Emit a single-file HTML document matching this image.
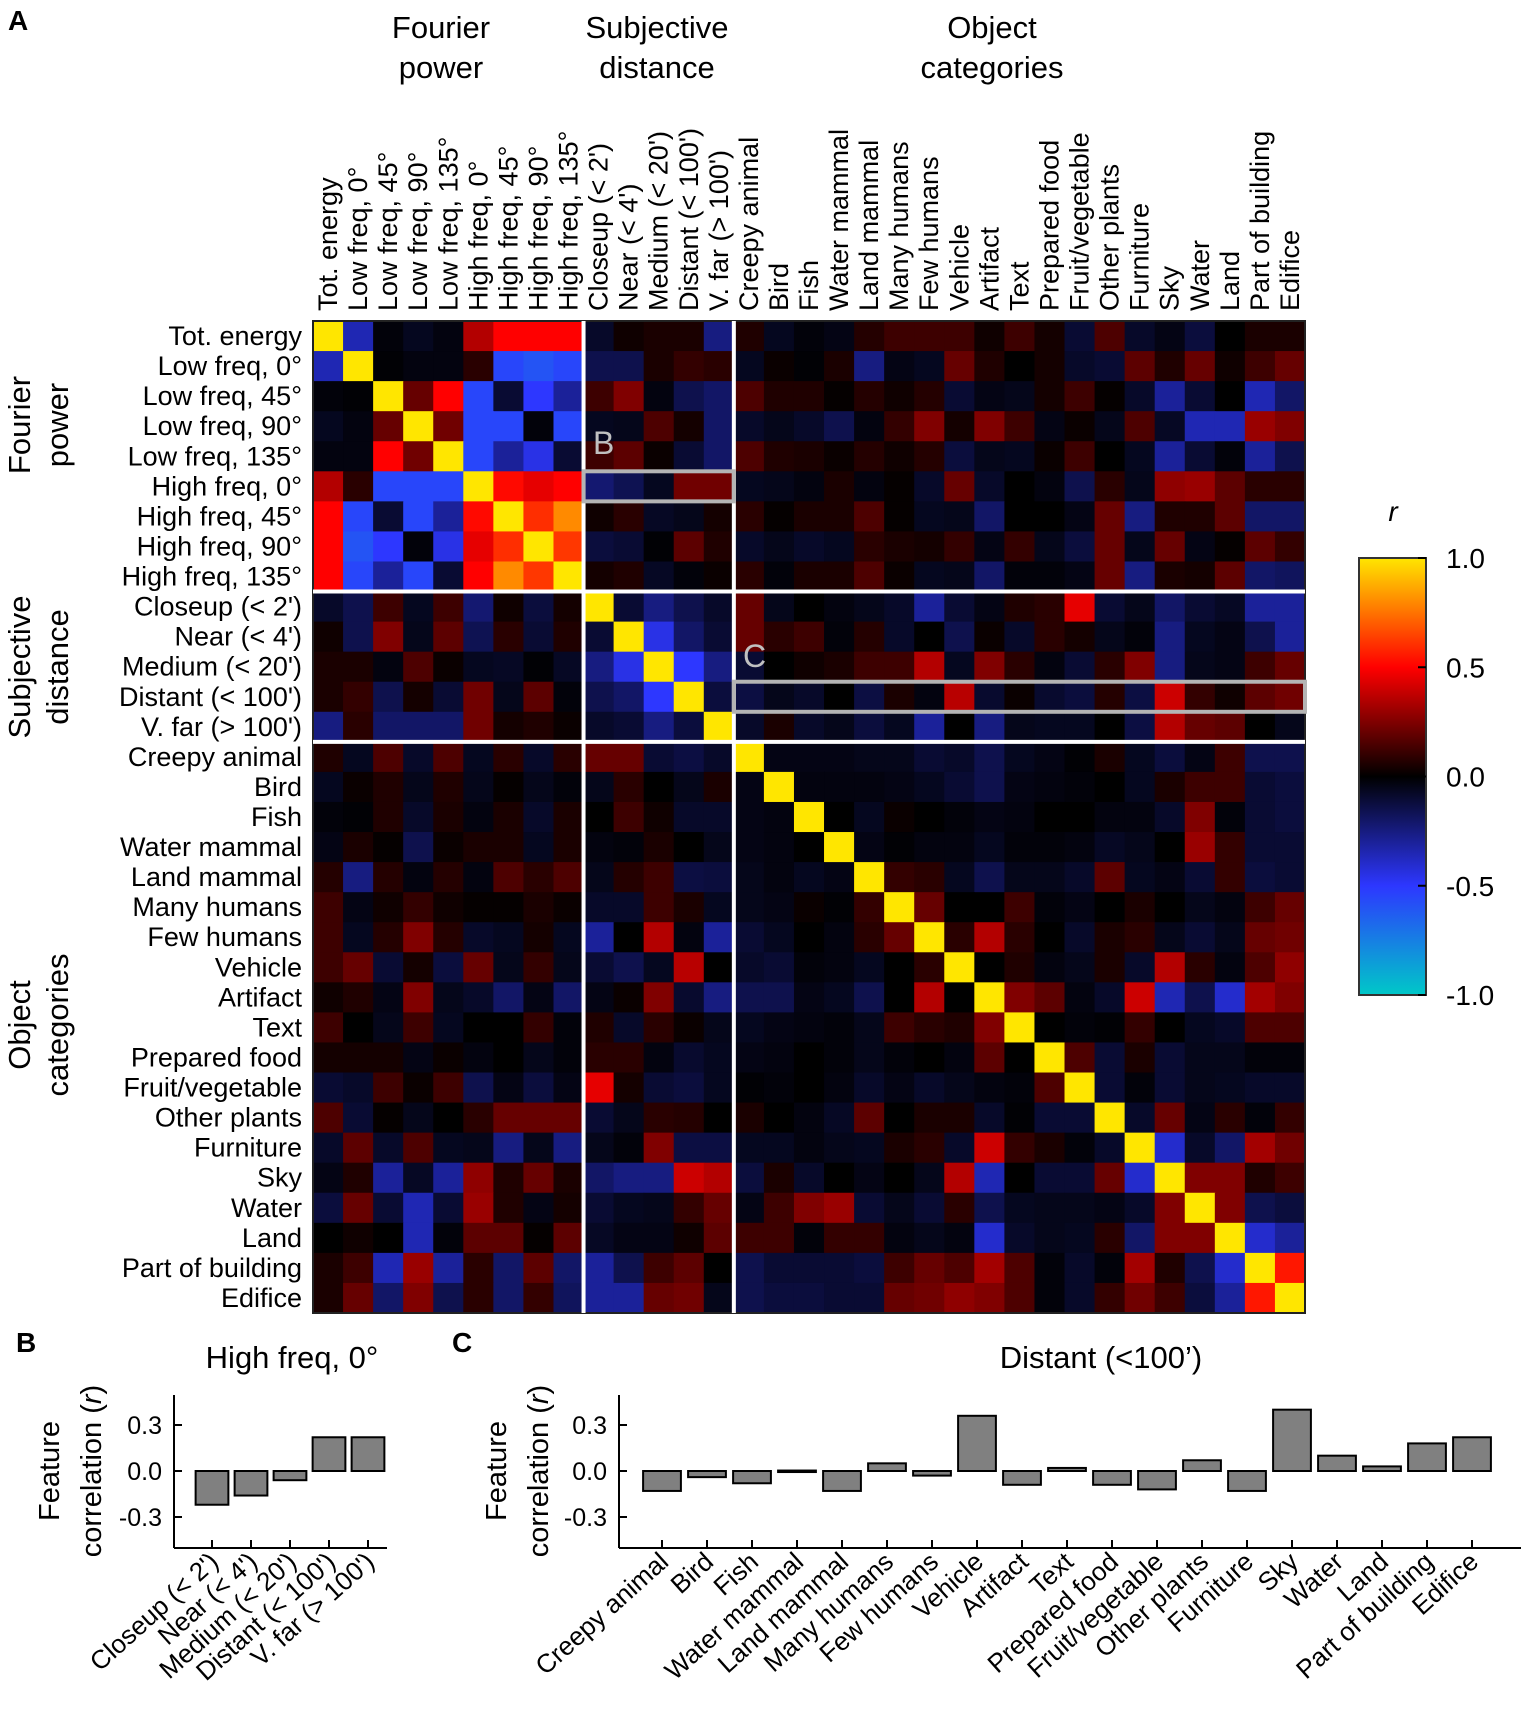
<!DOCTYPE html>
<html><head><meta charset="utf-8"><style>
body{margin:0;background:#fff}
svg{display:block;font-family:"Liberation Sans",Arial,sans-serif}
</style></head><body>
<svg id="fig" width="1526" height="1715" viewBox="0 0 1526 1715">
<text x="8" y="30" font-size="28" font-weight="bold">A</text>
<g font-size="31" text-anchor="middle">
<text x="441" y="38">Fourier</text>
<text x="441" y="78">power</text>
<text x="657" y="38">Subjective</text>
<text x="657" y="78">distance</text>
<text x="992" y="38">Object</text>
<text x="992" y="78">categories</text>
</g>
<g font-size="31" text-anchor="middle">
<text transform="translate(30,425) rotate(-90)">Fourier</text>
<text transform="translate(68,425) rotate(-90)">power</text>
<text transform="translate(30,667) rotate(-90)">Subjective</text>
<text transform="translate(68,667) rotate(-90)">distance</text>
<text transform="translate(30,1025) rotate(-90)">Object</text>
<text transform="translate(68,1025) rotate(-90)">categories</text>
</g>
<g id="heat"></g>
<g id="cbar"></g>
<text x="16" y="1352" font-size="28" font-weight="bold">B</text>
<text x="292" y="1368" font-size="31" text-anchor="middle">High freq, 0°</text>
<g id="chartB"></g>
<text x="452" y="1352" font-size="28" font-weight="bold">C</text>
<text x="1101" y="1368" font-size="31" text-anchor="middle">Distant (&lt;100’)</text>
<g id="chartC"></g>
</svg>
<script>
const labels = ["Tot. energy","Low freq, 0°","Low freq, 45°","Low freq, 90°","Low freq, 135°","High freq, 0°","High freq, 45°","High freq, 90°","High freq, 135°","Closeup (< 2')","Near (< 4')","Medium (< 20')","Distant (< 100')","V. far (> 100')","Creepy animal","Bird","Fish","Water mammal","Land mammal","Many humans","Few humans","Vehicle","Artifact","Text","Prepared food","Fruit/vegetable","Other plants","Furniture","Sky","Water","Land","Part of building","Edifice"];
const lowerTri = [
[],
[-0.35],
[-0.02,-0.01],
[-0.06,-0.03,0.2],
[-0.03,-0.03,0.5,0.22],
[0.35,0.08,-0.55,-0.55,-0.55],
[0.5,-0.55,-0.1,-0.55,-0.3,0.52],
[0.5,-0.6,-0.5,-0.02,-0.45,0.45,0.6],
[0.5,-0.55,-0.3,-0.55,-0.1,0.5,0.8,0.62],
[-0.08,-0.15,0.12,-0.06,0.12,-0.22,0.03,-0.12,0.04],
[0.03,-0.15,0.25,-0.05,0.18,-0.16,0.08,-0.1,0.06,-0.1],
[0.05,0.05,-0.03,0.15,0.02,-0.06,-0.07,-0.01,-0.07,-0.25,-0.45],
[0.05,0.1,-0.15,0.04,-0.1,0.22,-0.05,0.18,-0.02,-0.15,-0.2,-0.5],
[-0.25,0.08,-0.2,-0.2,-0.2,0.22,0.04,0.06,0.02,-0.08,-0.1,-0.25,-0.12],
[0.06,-0.06,0.15,-0.08,0.15,-0.06,0.08,-0.08,0.08,0.2,0.2,-0.1,-0.13,-0.08],
[-0.06,0.02,0.06,-0.05,0.06,-0.05,0.01,-0.05,-0.02,-0.05,0.08,0.0,-0.05,0.05,-0.04],
[-0.02,-0.01,0.06,-0.08,0.05,-0.03,0.05,-0.08,0.05,0.0,0.12,0.03,-0.08,-0.08,-0.04,-0.03],
[-0.04,0.05,0.01,-0.15,0.02,0.05,0.05,-0.06,0.05,-0.03,-0.02,0.05,0.0,-0.05,-0.04,-0.03,0.0],
[0.07,-0.25,0.07,-0.03,0.07,-0.03,0.15,0.08,0.15,-0.05,0.07,0.12,-0.13,-0.12,-0.05,-0.03,-0.06,-0.04],
[0.12,-0.04,0.03,0.1,0.03,0.01,0.01,0.05,0.02,-0.08,-0.08,0.12,0.05,-0.06,-0.05,-0.04,0.02,-0.01,0.1],
[0.12,-0.06,0.07,0.25,0.07,-0.08,-0.06,0.04,-0.06,-0.3,0.0,0.35,-0.03,-0.3,-0.1,-0.06,0.0,-0.03,0.08,0.2],
[0.12,0.2,-0.1,0.04,-0.12,0.2,-0.05,0.1,-0.05,-0.1,-0.15,-0.06,0.36,0.0,-0.08,-0.1,-0.02,-0.03,-0.06,0.0,0.08],
[0.03,0.06,-0.04,0.25,-0.05,-0.08,-0.2,-0.04,-0.2,-0.04,0.02,0.25,-0.09,-0.25,-0.15,-0.15,-0.04,-0.06,-0.15,0.0,0.35,0.0],
[0.12,0.0,-0.05,0.12,-0.06,0.0,0.0,0.1,-0.02,0.06,-0.08,0.08,0.02,-0.05,-0.06,-0.04,-0.03,-0.02,-0.05,0.12,0.08,0.06,0.25],
[0.04,0.04,0.04,-0.04,0.02,-0.03,0.0,-0.05,-0.02,0.08,0.08,-0.03,-0.09,-0.06,-0.04,-0.03,0.0,-0.02,-0.05,-0.02,0.0,-0.03,0.18,0.0],
[-0.1,-0.08,0.12,0.02,0.12,-0.15,-0.04,-0.12,-0.04,0.45,0.04,-0.1,-0.12,-0.06,-0.01,-0.02,0.0,-0.03,-0.08,-0.04,-0.08,-0.05,-0.03,-0.02,0.15],
[0.15,-0.1,0.01,-0.05,0.0,0.08,0.2,0.2,0.2,-0.1,-0.05,0.08,0.07,0.0,0.05,0.0,-0.03,-0.07,0.18,0.0,0.05,0.05,-0.08,-0.01,-0.1,-0.1],
[-0.08,0.18,-0.08,0.15,-0.06,-0.05,-0.25,-0.05,-0.25,-0.05,-0.02,0.25,-0.13,-0.13,-0.06,-0.06,-0.03,-0.05,-0.06,0.05,0.08,-0.08,0.4,0.1,0.05,-0.02,-0.08],
[-0.04,0.06,-0.3,-0.07,-0.3,0.28,0.06,0.2,0.05,-0.2,-0.25,-0.25,0.4,0.35,-0.12,0.05,-0.08,0.0,-0.04,0.0,-0.05,0.35,-0.35,0.0,-0.1,-0.1,0.2,-0.4],
[-0.12,0.2,-0.1,-0.35,-0.1,0.3,0.06,-0.04,0.04,-0.1,-0.06,-0.05,0.1,0.2,-0.04,0.12,0.25,0.3,-0.1,-0.05,-0.1,0.08,-0.15,-0.06,-0.05,-0.05,-0.04,-0.08,0.25],
[0.0,0.03,0.0,-0.35,-0.02,0.18,0.18,0.01,0.18,-0.07,-0.04,-0.04,0.03,0.18,0.12,0.12,-0.02,0.1,0.1,-0.03,-0.05,-0.03,-0.4,-0.08,-0.05,-0.06,0.08,-0.2,0.25,0.25],
[0.05,0.12,-0.35,0.3,-0.3,0.08,-0.2,0.18,-0.2,-0.3,-0.15,0.12,0.18,0.0,-0.15,-0.1,-0.1,-0.1,-0.12,0.12,0.2,0.15,0.32,0.15,-0.02,-0.08,-0.02,0.32,0.06,-0.15,-0.4],
[0.05,0.2,-0.2,0.25,-0.15,0.08,-0.2,0.1,-0.18,-0.3,-0.3,0.2,0.22,-0.05,-0.15,-0.12,-0.12,-0.1,-0.1,0.2,0.22,0.28,0.25,0.15,-0.02,-0.08,0.1,0.22,0.12,-0.12,-0.3,0.55]
];
const catsB = ["Closeup (< 2')","Near (< 4')","Medium (< 20')","Distant (< 100')","V. far (> 100')"];
const valsB = [-0.22,-0.16,-0.06,0.22,0.22];
const catsC = ["Creepy animal","Bird","Fish","Water mammal","Land mammal","Many humans","Few humans","Vehicle","Artifact","Text","Prepared food","Fruit/vegetable","Other plants","Furniture","Sky","Water","Land","Part of building","Edifice"];
const valsC = [-0.13,-0.04,-0.08,0.003,-0.13,0.05,-0.03,0.36,-0.09,0.02,-0.09,-0.12,0.07,-0.13,0.4,0.1,0.03,0.18,0.22];
const ticksBar = [0.3,0.0,-0.3];
const tickLabelsBar = ["0.3","0.0","-0.3"];
const cbarTicks = [1.0,0.5,0.0,-0.5,-1.0];
const cbarTickLabels = ["1.0","0.5","0.0","-0.5","-1.0"];

const NS="http://www.w3.org/2000/svg";
function mk(tag,attrs,parent){const e=document.createElementNS(NS,tag);for(const k in attrs)e.setAttribute(k,attrs[k]);parent.appendChild(e);return e;}
function cmap(v){v=Math.max(-1,Math.min(1,v));let r,g,b;
 if(v>=0.5){const t=(v-0.5)/0.5;r=255;g=230*t;b=0;}
 else if(v>=0){const t=v/0.5;r=255*t;g=0;b=0;}
 else if(v>=-0.5){const t=-v/0.5;r=45*t;g=55*t;b=255*t;}
 else{const t=(-v-0.5)/0.5;r=45*(1-t);g=55+145*t;b=255-55*t;}
 return `rgb(${Math.round(r)},${Math.round(g)},${Math.round(b)})`;}
const N=labels.length;
const M=[];for(let i=0;i<N;i++){M.push([]);for(let j=0;j<N;j++){let v;if(i===j)v=1;else if(j<i)v=lowerTri[i][j];else v=lowerTri[j][i];M[i].push(v===undefined?0:v);}}
const hx0=313,hy0=321,cs=(1305-313)/N;
const xC=j=>hx0+j*cs, yR=i=>hy0+i*cs;
const heat=document.getElementById('heat');
for(let i=0;i<N;i++)for(let j=0;j<N;j++){
 const r=mk('rect',{x:xC(j),y:yR(i),width:cs+0.6,height:cs+0.6,fill:cmap(M[i][j])},heat);
 
 
}
mk('rect',{x:hx0,y:hy0,width:cs*N,height:cs*N,fill:'none',stroke:'#222','stroke-width':2},heat);
[9,14].forEach(k=>{
 const l1=mk('line',{x1:xC(k),x2:xC(k),y1:hy0,y2:hy0+cs*N,stroke:'#fff','stroke-width':4},heat);
 
 
 const l2=mk('line',{y1:yR(k),y2:yR(k),x1:hx0,x2:hx0+cs*N,stroke:'#fff','stroke-width':4},heat);
 
 
});
for(let i=0;i<N;i++){
 const t=mk('text',{x:302,y:yR(i)+cs/2+9,'font-size':27,'text-anchor':'end'},heat);t.textContent=labels[i];
 
 
 const c=mk('text',{transform:`translate(${xC(i)+cs/2+9},311) rotate(-90)`,'font-size':27},heat);c.textContent=labels[i];
 
 
}
const bb=mk('rect',{x:xC(9),y:yR(5),width:cs*5,height:cs,fill:'none',stroke:'#b4b4b4','stroke-width':4},heat);


const bc=mk('rect',{x:xC(14),y:yR(12),width:cs*19,height:cs,fill:'none',stroke:'#b4b4b4','stroke-width':4},heat);


const tb=mk('text',{x:593,y:454,'font-size':32,fill:'#c0c0c0'},heat);tb.textContent='B';


const tc=mk('text',{x:743,y:667,'font-size':32,fill:'#c0c0c0'},heat);tc.textContent='C';



// colorbar
const cb=document.getElementById('cbar');
const cbx=1359,cbw=67,cbT=558,cbB=995;
const cbY=v=>cbB-(v+1)/2*(cbB-cbT);
const defs=mk('defs',{},cb);const gr=mk('linearGradient',{id:'cg',x1:0,y1:1,x2:0,y2:0},defs);
for(let k=0;k<=20;k++){const v=-1+k/10;mk('stop',{offset:k/20,'stop-color':cmap(v)},gr);}
mk('rect',{x:cbx,y:cbT,width:cbw,height:cbB-cbT,fill:'url(#cg)',stroke:'#333','stroke-width':2},cb);
cbarTicks.forEach((v,k)=>{
 mk('line',{x1:cbx+cbw-8,x2:cbx+cbw,y1:cbY(v),y2:cbY(v),stroke:'#000','stroke-width':2},cb);
 const t=mk('text',{x:1446,y:cbY(v)+10,'font-size':28},cb);t.textContent=cbarTickLabels[k];
 
 
});
const rt=mk('text',{x:1393,y:521,'font-size':28,'font-style':'italic','text-anchor':'middle'},cb);rt.textContent='r';



function barChart(gid,cats,vals,ax0,ax1,c0,step,labX){
 const g=document.getElementById(gid);
 const yTop=1395,yBot=1548,y0=1471,sc=46/0.3;
 const yv=v=>y0-v*sc;
 mk('line',{x1:ax0,x2:ax0,y1:yTop,y2:yBot,stroke:'#000','stroke-width':2},g);
 mk('line',{x1:ax0,x2:ax1,y1:yBot,y2:yBot,stroke:'#000','stroke-width':2},g);
 ticksBar.forEach((v,k)=>{
  mk('line',{x1:ax0,x2:ax0+8,y1:yv(v),y2:yv(v),stroke:'#000','stroke-width':2},g);
  const t=mk('text',{x:ax0-12,y:yv(v)+9,'font-size':25,'text-anchor':'end'},g);t.textContent=tickLabelsBar[k];
  
  
 });
 cats.forEach((c,k)=>{
  const cx=c0+k*step,v=vals[k];
  const b=mk('rect',{x:cx-step*0.42,y:Math.min(yv(v),y0),width:step*0.84,height:Math.max(Math.abs(v)*sc,1.5),fill:'#808080',stroke:'#000','stroke-width':2},g);
  
  
  mk('line',{x1:cx,x2:cx,y1:yBot,y2:yBot-8,stroke:'#000','stroke-width':2},g);
  const t=mk('text',{transform:`translate(${cx+8},1564) rotate(-42)`,'font-size':26,'text-anchor':'end'},g);t.textContent=c;
  
  
 });
 const a=mk('text',{transform:`translate(${labX},1471) rotate(-90)`,'font-size':29,'text-anchor':'middle'},g);a.textContent='Feature';
 
 
 const b2=mk('text',{transform:`translate(${labX+42},1471) rotate(-90)`,'font-size':29,'text-anchor':'middle'},g);
 b2.innerHTML='correlation (<tspan font-style="italic">r</tspan>)';
 
 
}
barChart('chartB',catsB,valsB,174,387,212,39,59);
barChart('chartC',catsC,valsC,619,1521,662,45,506);
</script>
</body></html>
